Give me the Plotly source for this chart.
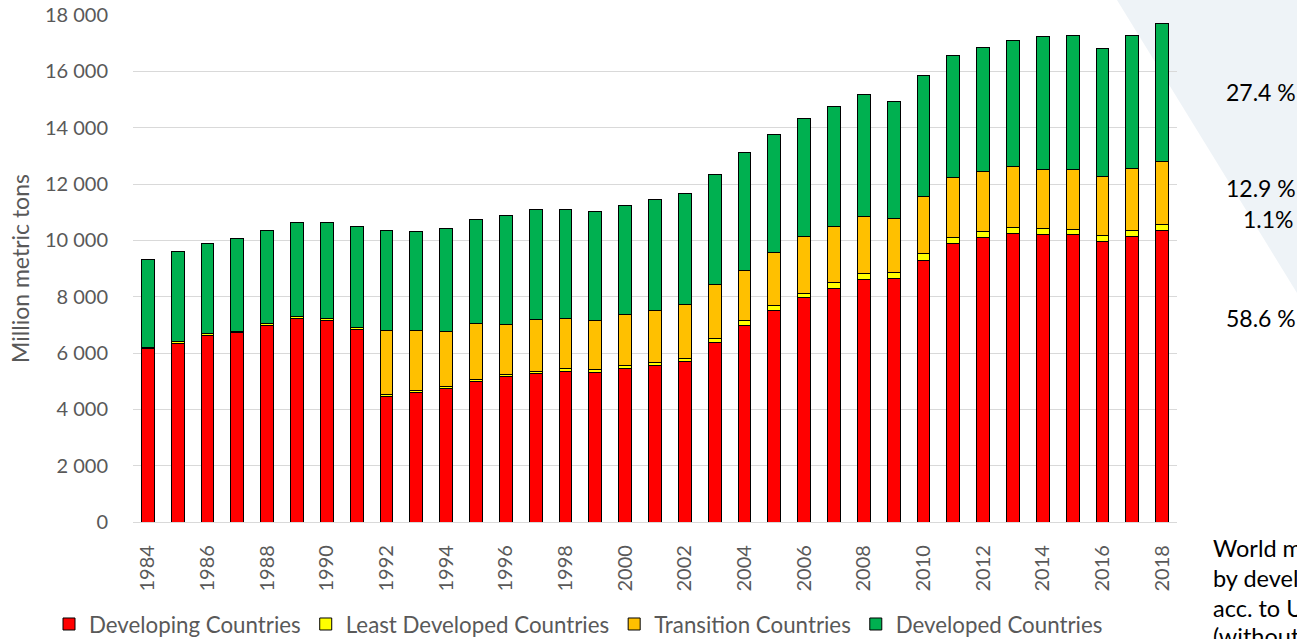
import plotly.graph_objects as go

years = list(range(1984, 2019))

developing = [6150, 6340, 6620, 6720, 6990, 7230, 7170, 6840, 4460, 4590,
              4745, 4990, 5150, 5270, 5350, 5310, 5450, 5560, 5700, 6380,
              6990, 7520, 7960, 8300, 8610, 8640, 9300, 9900, 10110, 10230,
              10190, 10210, 9960, 10150, 10350]
least_developed = [50, 55, 60, 60, 60, 65, 65, 65, 70, 70,
                   75, 80, 85, 90, 95, 95, 100, 100, 115, 125,
                   150, 180, 170, 190, 210, 210, 220, 200, 200, 220,
                   230, 190, 200, 200, 195]
transition = [0, 0, 0, 0, 0, 0, 0, 0, 2260, 2130,
              1950, 1975, 1790, 1830, 1780, 1750, 1830, 1860, 1900, 1930,
              1800, 1870, 2010, 2000, 2020, 1930, 2050, 2140, 2130, 2160,
              2110, 2120, 2110, 2200, 2270]
developed = [3130, 3225, 3205, 3295, 3300, 3350, 3400, 3575, 3565, 3515,
             3650, 3690, 3845, 3910, 3875, 3855, 3870, 3935, 3940, 3895,
             4185, 4175, 4175, 4270, 4325, 4145, 4265, 4305, 4420, 4480,
             4710, 4745, 4540, 4705, 4885]

share_labels = ["27.4 %", "12.9 %", "1.1%", "58.6 %"]
note_lines = ["World mining production 1984-2018",
              "by development status of countries",
              "acc. to UN classification",
              "(without construction minerals)"]

FONT = "Lato"
GREY = "#595959"

fig = go.Figure()
series = [("Developing Countries", developing, "#FF0000"),
          ("Least Developed Countries", least_developed, "#FFFF00"),
          ("Transition Countries", transition, "#FFC000"),
          ("Developed Countries", developed, "#00B050")]
for name, vals, col in series:
    fig.add_trace(go.Bar(x=years, y=vals, name=name,
                         marker=dict(color=col, line=dict(color="#000000", width=1))))

# plot area: x 133..1177 px, y 15..522 px
def px(x):
    return (x - 133) / 1044

def py(y):
    return (522 - y) / 507

# pale triangle in the top-right corner
fig.add_shape(type="path", xref="paper", yref="paper", layer="below",
              path=f"M {px(1117)} {py(0)} L {px(1297)} {py(0)} L {px(1297)} {py(293)} Z",
              fillcolor="#EEF3F7", line=dict(width=0))

share_pos = [(1261, 92), (1261, 188), (1268, 219), (1261, 318)]
for txt, (xx, yy) in zip(share_labels, share_pos):
    fig.add_annotation(text=txt, x=px(xx), y=py(yy), xref="paper", yref="paper",
                       showarrow=False, xanchor="center", yanchor="middle",
                       font=dict(family=FONT, size=23, color="#000000"))

note_pos = [548, 578, 608, 636]
for txt, yy in zip(note_lines, note_pos):
    fig.add_annotation(text=txt, x=px(1211), y=py(yy), xref="paper", yref="paper",
                       showarrow=False, xanchor="left", yanchor="middle",
                       font=dict(family=FONT, size=23.5, color="#000000"))

fig.update_layout(
    barmode="stack",
    bargap=0.57,
    width=1297, height=639,
    margin=dict(l=133, r=120, t=15, b=117, autoexpand=False),
    paper_bgcolor="white", plot_bgcolor="rgba(0,0,0,0)",
    separators=". ",
    font=dict(family=FONT, size=20, color=GREY),
    legend=dict(orientation="h", x=px(49), y=py(624), yanchor="middle",
                font=dict(family=FONT, size=22.3, color=GREY),
                itemclick=False, traceorder="normal"),
)
fig.update_xaxes(range=[1983.5, 2018.5], tickmode="linear", tick0=1984, dtick=2,
                 tickangle=-90, showgrid=False, showline=True, linecolor="#D9D9D9",
                 linewidth=1.3, ticks="outside", ticklen=14, tickcolor="rgba(0,0,0,0)",
                 automargin=False, tickfont=dict(family=FONT, size=20, color=GREY))
fig.update_yaxes(range=[0, 18000], dtick=2000, tickformat=",d", showgrid=True,
                 gridcolor="#D9D9D9", gridwidth=1.3, zeroline=False, automargin=False,
                 ticks="outside", ticklen=20, tickcolor="rgba(0,0,0,0)",
                 tickfont=dict(family=FONT, size=20, color=GREY),
                 title=dict(text="Million metric tons", standoff=8,
                            font=dict(family=FONT, size=23, color=GREY)))

fig.write_html("out.html", config={"displayModeBar": False},
               post_script="document.body.style.margin='0';document.body.style.overflow='hidden';")
